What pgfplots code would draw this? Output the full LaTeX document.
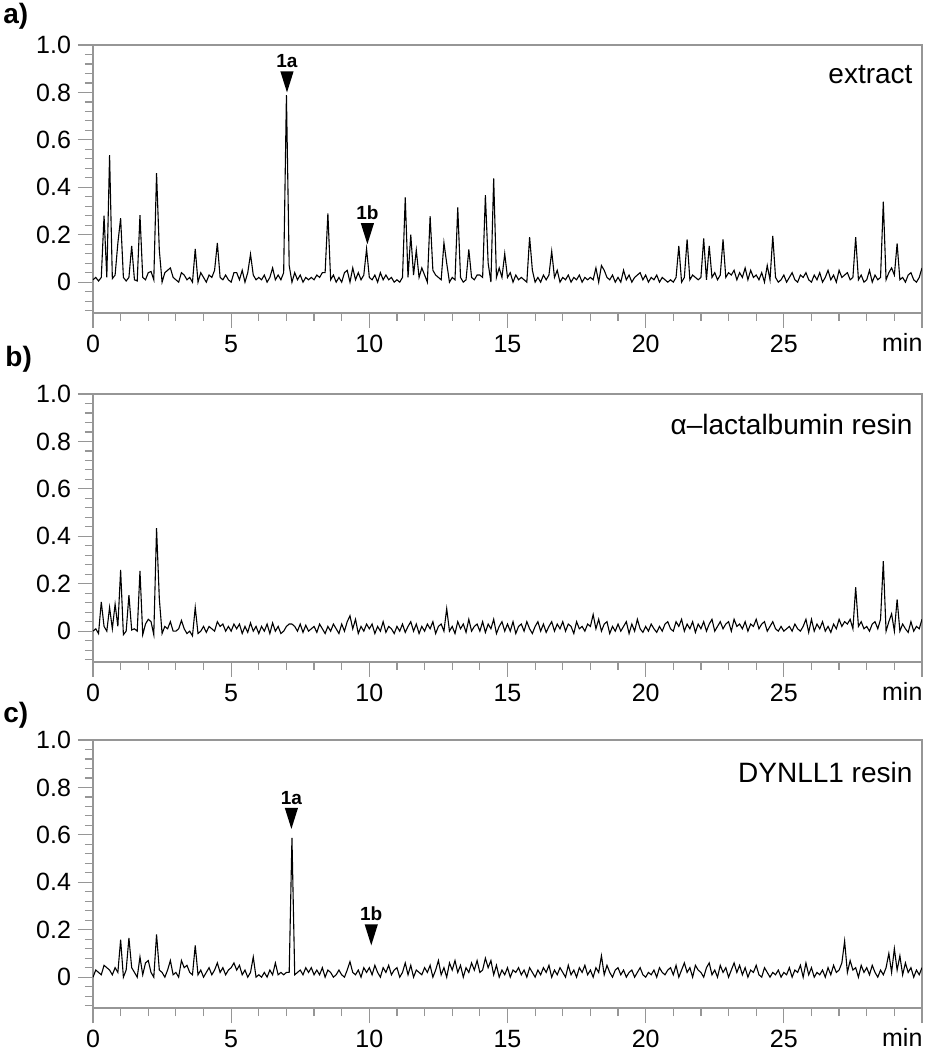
\documentclass[border=0pt]{standalone}
\usepackage{fontspec}
\setmainfont{Liberation Sans}
\usepackage{pgfplots}
\usepackage{pgfplotstable}
\pgfplotsset{compat=1.18}

\pgfplotstableread{
t A B C
0.0 0.010 0.000 0.000
0.1 0.020 0.010 0.030
0.2 0.005 -0.010 0.020
0.3 0.020 0.123 0.010
0.4 0.280 0.020 0.050
0.5 0.020 0.000 0.040
0.6 0.536 0.100 0.030
0.7 0.015 0.010 0.010
0.8 0.030 0.114 0.040
0.9 0.165 0.020 0.020
1.0 0.270 0.258 0.158
1.1 0.020 -0.015 0.000
1.2 0.005 0.000 0.030
1.3 0.020 0.152 0.165
1.4 0.153 0.005 0.040
1.5 0.010 0.010 0.020
1.6 0.005 0.000 0.000
1.7 0.283 0.254 0.085
1.8 0.020 -0.015 0.010
1.9 0.010 0.030 0.060
2.0 0.040 0.050 0.070
2.1 0.045 0.040 0.020
2.2 0.010 -0.015 0.000
2.3 0.460 0.434 0.180
2.4 0.135 0.137 0.030
2.5 0.000 -0.010 0.020
2.6 0.040 0.020 0.000
2.7 0.050 0.010 0.030
2.8 0.060 0.040 0.070
2.9 0.020 0.000 0.010
3.0 0.010 0.000 0.020
3.1 0.000 0.010 0.000
3.2 0.040 0.045 0.070
3.3 0.030 0.010 0.040
3.4 0.010 -0.010 0.050
3.5 0.020 0.000 0.020
3.6 0.000 -0.020 0.010
3.7 0.140 0.100 0.134
3.8 0.000 -0.010 0.010
3.9 0.040 0.000 0.030
4.0 0.020 0.020 0.000
4.1 0.000 -0.005 0.020
4.2 0.030 0.020 0.040
4.3 0.020 0.010 0.010
4.4 0.050 0.000 0.030
4.5 0.165 0.040 0.060
4.6 0.020 0.020 0.020
4.7 0.010 0.030 0.040
4.8 0.030 0.000 0.010
4.9 0.010 0.020 0.030
5.0 0.000 0.000 0.040
5.1 0.040 0.030 0.060
5.2 0.040 0.010 0.030
5.3 0.010 0.030 0.050
5.4 0.050 -0.010 0.010
5.5 0.000 0.020 0.030
5.6 0.040 -0.005 0.000
5.7 0.118 0.035 0.020
5.8 0.030 0.000 0.085
5.9 0.010 0.020 0.000
6.0 0.020 -0.010 0.010
6.1 0.010 0.020 0.000
6.2 0.030 0.000 0.020
6.3 0.000 0.030 0.000
6.4 0.020 -0.010 0.030
6.5 0.060 0.035 0.010
6.6 0.010 0.000 0.060
6.7 0.030 0.020 0.010
6.8 0.010 -0.010 0.020
6.9 0.040 0.000 0.010
7.0 0.789 0.020 0.020
7.1 0.070 0.030 0.020
7.2 0.000 0.030 0.587
7.3 0.040 0.020 0.010
7.4 0.010 0.000 0.020
7.5 0.030 0.030 0.030
7.6 0.000 -0.005 0.010
7.7 0.020 0.025 0.040
7.8 0.010 0.000 0.020
7.9 0.020 0.010 0.040
8.0 0.010 0.020 0.010
8.1 0.030 -0.005 0.030
8.2 0.020 0.030 0.010
8.3 0.040 0.010 0.040
8.4 0.040 -0.010 0.000
8.5 0.290 0.020 0.030
8.6 0.010 0.000 0.020
8.7 0.030 0.030 0.000
8.8 0.000 0.010 0.010
8.9 0.020 -0.010 0.030
9.0 0.000 0.030 0.010
9.1 0.040 0.000 0.000
9.2 0.050 0.040 0.030
9.3 0.000 0.065 0.065
9.4 0.060 0.010 0.020
9.5 0.010 0.050 0.010
9.6 0.040 -0.010 0.030
9.7 0.010 0.020 0.000
9.8 0.030 0.000 0.040
9.9 0.140 0.030 0.020
10.0 0.020 0.010 0.040
10.1 0.010 0.030 0.010
10.2 0.030 -0.010 0.050
10.3 0.000 0.020 0.020
10.4 0.040 0.000 0.000
10.5 0.010 0.040 0.040
10.6 0.030 -0.005 0.020
10.7 0.010 0.020 0.050
10.8 0.020 0.010 0.010
10.9 0.000 -0.010 0.030
11.0 0.010 0.020 0.040
11.1 0.000 0.000 0.000
11.2 0.020 0.030 0.020
11.3 0.357 -0.005 0.060
11.4 0.020 0.020 0.010
11.5 0.200 0.040 0.050
11.6 0.030 0.000 0.000
11.7 0.135 0.030 0.030
11.8 0.020 -0.010 0.020
11.9 0.060 0.020 0.010
12.0 0.030 0.000 0.040
12.1 0.000 0.030 0.020
12.2 0.278 0.010 0.050
12.3 0.050 0.040 0.000
12.4 0.030 -0.010 0.030
12.5 0.020 0.020 0.070
12.6 0.010 0.030 0.010
12.7 0.166 0.000 0.040
12.8 0.080 0.095 0.000
12.9 0.000 0.000 0.060
13.0 0.020 0.020 0.030
13.1 0.010 -0.010 0.070
13.2 0.315 0.040 0.020
13.3 0.020 0.010 0.050
13.4 0.000 0.030 0.000
13.5 0.010 -0.005 0.040
13.6 0.138 0.050 0.020
13.7 0.020 0.000 0.060
13.8 0.010 0.020 0.030
13.9 0.030 0.030 0.070
14.0 0.030 0.000 0.020
14.1 0.020 0.040 0.030
14.2 0.367 -0.005 0.080
14.3 0.080 0.030 0.040
14.4 0.000 0.010 0.070
14.5 0.438 0.050 0.010
14.6 0.020 -0.010 0.050
14.7 0.060 0.020 0.000
14.8 0.020 0.040 0.030
14.9 0.120 0.000 0.010
15.0 0.020 0.030 0.040
15.1 0.040 0.000 0.000
15.2 0.000 0.040 0.030
15.3 0.030 -0.010 0.020
15.4 0.010 0.020 0.040
15.5 0.020 0.030 0.010
15.6 0.010 0.000 0.030
15.7 0.000 0.040 0.000
15.8 0.190 0.010 0.040
15.9 0.050 -0.010 0.020
16.0 0.000 0.020 0.000
16.1 0.020 0.040 0.030
16.2 0.000 0.000 0.010
16.3 0.030 0.030 0.040
16.4 0.010 -0.005 0.020
16.5 0.030 0.020 0.050
16.6 0.130 0.040 0.000
16.7 0.020 0.000 0.030
16.8 0.050 0.030 0.010
16.9 0.000 0.010 0.040
17.0 0.020 0.040 0.020
17.1 0.010 0.000 0.000
17.2 0.030 0.030 0.050
17.3 0.000 0.020 0.010
17.4 0.020 -0.010 0.030
17.5 0.010 0.040 0.000
17.6 0.030 0.010 0.040
17.7 0.000 0.020 0.020
17.8 0.020 0.000 0.050
17.9 0.010 0.030 0.010
18.0 0.020 0.020 0.030
18.1 0.010 0.070 0.000
18.2 0.060 0.010 0.040
18.3 0.000 0.050 0.020
18.4 0.070 0.000 0.090
18.5 0.050 0.030 0.010
18.6 0.020 0.040 0.050
18.7 0.010 -0.010 0.020
18.8 0.030 0.020 0.000
18.9 0.000 0.000 0.030
19.0 0.020 0.030 0.040
19.1 0.000 0.000 0.010
19.2 0.050 0.020 0.030
19.3 0.010 0.040 0.000
19.4 0.030 -0.010 0.020
19.5 0.000 0.030 0.030
19.6 0.020 0.000 0.000
19.7 0.030 0.050 0.020
19.8 0.040 0.010 0.040
19.9 0.010 -0.005 0.010
20.0 0.030 0.020 0.000
20.1 0.000 0.000 0.020
20.2 0.020 0.030 0.010
20.3 0.010 0.010 0.030
20.4 0.030 -0.005 0.000
20.5 0.000 0.020 0.040
20.6 0.020 0.000 0.020
20.7 0.010 0.030 0.010
20.8 0.000 0.040 0.030
20.9 0.010 0.010 0.040
21.0 0.000 0.000 0.010
21.1 0.020 0.040 0.050
21.2 0.153 0.020 0.000
21.3 0.000 0.050 0.030
21.4 0.020 0.000 0.060
21.5 0.180 0.030 0.020
21.6 0.010 0.010 0.040
21.7 0.030 0.040 0.000
21.8 0.020 -0.005 0.050
21.9 0.010 0.030 0.030
22.0 0.020 0.010 0.020
22.1 0.184 0.040 0.000
22.2 0.010 0.000 0.040
22.3 0.153 0.030 0.060
22.4 0.020 0.050 0.010
22.5 0.040 0.000 0.030
22.6 0.010 0.020 0.000
22.7 0.030 0.040 0.050
22.8 0.180 0.010 0.020
22.9 0.020 0.030 0.040
23.0 0.040 0.040 0.000
23.1 0.030 0.000 0.030
23.2 0.050 0.050 0.060
23.3 0.010 0.020 0.020
23.4 0.040 0.030 0.050
23.5 0.020 0.010 0.010
23.6 0.060 0.040 0.040
23.7 0.010 0.000 0.000
23.8 0.050 0.030 0.030
23.9 0.020 0.020 0.020
24.0 0.030 0.050 0.050
24.1 0.010 0.010 0.010
24.2 0.040 0.030 0.000
24.3 0.000 0.040 0.040
24.4 0.070 0.000 0.020
24.5 0.010 0.020 0.000
24.6 0.195 0.040 0.020
24.7 0.020 0.010 0.010
24.8 0.000 0.000 0.030
24.9 0.010 0.020 0.000
25.0 0.030 0.000 0.020
25.1 0.000 0.010 0.010
25.2 0.020 0.020 0.040
25.3 0.040 0.000 0.000
25.4 0.010 0.030 0.030
25.5 0.000 0.010 0.020
25.6 0.030 0.000 0.050
25.7 0.020 0.020 0.000
25.8 0.040 0.050 0.060
25.9 0.010 -0.005 0.010
26.0 0.000 0.050 0.040
26.1 0.030 0.000 0.000
26.2 0.010 0.030 0.020
26.3 0.040 0.010 0.010
26.4 0.000 0.040 0.030
26.5 0.020 0.000 0.000
26.6 0.050 0.020 0.040
26.7 0.010 -0.005 0.010
26.8 0.030 0.030 0.050
26.9 0.000 0.010 0.020
27.0 0.050 0.050 0.030
27.1 0.020 0.020 0.060
27.2 0.030 0.040 0.152
27.3 0.040 0.030 0.020
27.4 0.010 0.050 0.070
27.5 0.020 0.010 0.030
27.6 0.190 0.185 0.040
27.7 0.010 0.020 0.000
27.8 0.030 0.040 0.050
27.9 0.000 0.010 0.020
28.0 0.010 0.020 0.040
28.1 0.050 0.000 0.010
28.2 0.000 0.030 0.050
28.3 0.030 0.040 0.020
28.4 0.010 0.010 0.000
28.5 0.020 0.050 0.030
28.6 0.339 0.295 0.010
28.7 0.010 0.000 0.040
28.8 0.040 0.040 0.100
28.9 0.060 0.073 0.020
29.0 0.030 0.000 0.120
29.1 0.163 0.134 0.030
29.2 0.010 0.000 0.090
29.3 0.020 0.030 0.010
29.4 0.000 0.010 0.060
29.5 0.030 -0.005 0.020
29.6 0.040 0.040 0.040
29.7 0.010 0.000 0.000
29.8 0.000 0.020 0.030
29.9 0.020 0.010 0.010
30.0 0.060 0.050 0.040
}\chromdata

\definecolor{axgray}{RGB}{150,150,150}

\pgfplotsset{chrom/.style={
  scale only axis, width=414.5pt, height=134pt,
  anchor=south west, clip mode=individual,
  xmin=0, xmax=30, ymin=-0.13, ymax=1.0,
  xtick={0,5,10,15,20,25,30}, xticklabels={0,5,10,15,20,25,{}},
  minor xtick={1,2,3,4,6,7,8,9,11,12,13,14,16,17,18,19,21,22,23,24,26,27,28,29},
  ytick={0,0.2,0.4,0.6,0.8,1.0}, yticklabels={0,0.2,0.4,0.6,0.8,1.0},
  minor ytick={-0.12,-0.08,-0.04,0.04,0.08,0.12,0.16,0.24,0.28,0.32,0.36,0.44,0.48,0.52,0.56,0.64,0.68,0.72,0.76,0.84,0.88,0.92,0.96},
  tick align=outside, xtick pos=bottom, ytick pos=left,
  major tick length=7.5pt, minor tick length=4pt,
  axis line style={draw=axgray, line width=0.6pt},
  tick style={draw=axgray, line width=0.6pt},
  ticklabel style={font=\fontsize{12.5}{14}\selectfont, black},
  /pgf/number format/assume math mode=true,
}}

\newcommand{\peaklabel}[3]{%
  \fill[black] (axis cs:#1,#2) -- ++(-3.3pt,10.5pt) -- ++(6.6pt,0pt) -- cycle;
  \path (axis cs:#1,#2) ++(0pt,12.3pt) node[anchor=base, inner sep=0pt, font=\bfseries\fontsize{9.5}{11}\selectfont] {#3};
}

\begin{document}
\begin{tikzpicture}
\path[use as bounding box] (0pt,0pt) rectangle (463pt,525pt);

% panel a
\begin{axis}[chrom, at={(46.5pt,368.5pt)}]
\addplot[black, line width=0.55pt, mark=none] table[x=t, y=A] {\chromdata};
\peaklabel{7.02}{0.80}{1a}
\peaklabel{9.93}{0.16}{1b}
\node[anchor=base east, inner sep=0pt, font=\fontsize{14}{16}\selectfont] at (rel axis cs:0.989,0.858) {extract};
\node[anchor=base east, inner sep=0pt, font=\fontsize{12.5}{14}\selectfont] at (rel axis cs:1.001,0) [yshift=-19.5pt] {min};
\end{axis}

% panel b
\begin{axis}[chrom, at={(46.5pt,194pt)}]
\addplot[black, line width=0.55pt, mark=none] table[x=t, y=B] {\chromdata};
\node[anchor=base east, inner sep=0pt, font=\fontsize{14}{16}\selectfont] at (rel axis cs:0.989,0.850) {α–lactalbumin resin};
\node[anchor=base east, inner sep=0pt, font=\fontsize{12.5}{14}\selectfont] at (rel axis cs:1.001,0) [yshift=-19.5pt] {min};
\end{axis}

% panel c
\begin{axis}[chrom, at={(46.5pt,21pt)}]
\addplot[black, line width=0.55pt, mark=none] table[x=t, y=C] {\chromdata};
\peaklabel{7.18}{0.625}{1a}
\peaklabel{10.07}{0.134}{1b}
\node[anchor=base east, inner sep=0pt, font=\fontsize{14}{16}\selectfont] at (rel axis cs:0.989,0.841) {DYNLL1 resin};
\node[anchor=base east, inner sep=0pt, font=\fontsize{12.5}{14}\selectfont] at (rel axis cs:1.001,0) [yshift=-19.5pt] {min};
\end{axis}

\node[anchor=base west, inner sep=0pt, font=\bfseries\fontsize{14}{16}\selectfont] at (1.5pt,513pt) {a)};
\node[anchor=base west, inner sep=0pt, font=\bfseries\fontsize{14}{16}\selectfont] at (2.5pt,341.5pt) {b)};
\node[anchor=base west, inner sep=0pt, font=\bfseries\fontsize{14}{16}\selectfont] at (1.5pt,163.5pt) {c)};
\end{tikzpicture}
\end{document}
